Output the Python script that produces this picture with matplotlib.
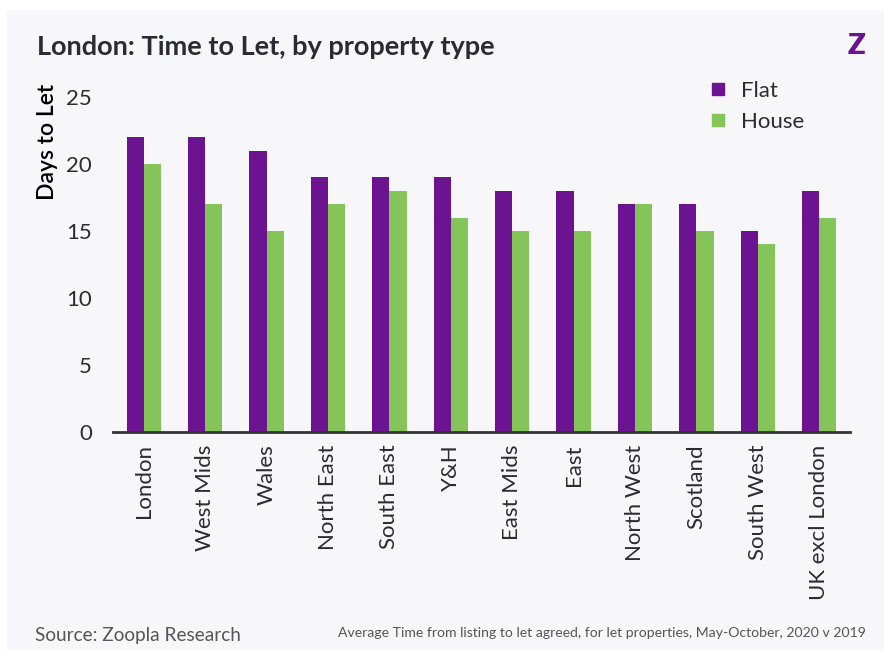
import matplotlib.pyplot as plt
from matplotlib.patches import Rectangle
from matplotlib.lines import Line2D
import numpy as np

# data
regions = ['London', 'West Mids', 'Wales', 'North East', 'South East', 'Y&H',
           'East Mids', 'East', 'North West', 'Scotland', 'South West', 'UK excl London']
flat = [22, 22, 21, 19, 19, 19, 18, 18, 17, 17, 15, 18]
house = [20, 17, 15, 17, 18, 16, 15, 15, 17, 15, 14, 16]
yticks = [0, 5, 10, 15, 20, 25]

purple = '#6B1390'
green = '#84C458'
dark = '#2B2B33'
bg = '#F7F7F9'

plt.rcParams['font.family'] = ['Lato', 'DejaVu Sans']

fig = plt.figure(figsize=(8.84, 6.53), dpi=100, facecolor='white')
# card background
fig.patches.append(Rectangle((7 / 884, 3 / 653), 877 / 884, 640 / 653,
                             transform=fig.transFigure, facecolor=bg,
                             edgecolor='none', zorder=-1))

ax = fig.add_axes([113 / 884, 1 - 432 / 653, 737 / 884, (432 - 97) / 653])
ax.set_facecolor(bg)

x = np.arange(len(regions))
w = 0.28
ax.bar(x - w / 2, flat, w, color=purple, label='Flat')
ax.bar(x + w / 2, house, w, color=green, label='House')

ax.set_xlim(-0.5, len(regions) - 0.5)
ax.set_ylim(0, 25)
ax.set_yticks(yticks)
ax.set_yticklabels([str(t) for t in yticks], fontsize=16, color=dark)
ax.set_xticks(x)
ax.set_xticklabels(regions, rotation=90, fontsize=16, color=dark, va='top')
ax.tick_params(axis='both', length=0)
ax.tick_params(axis='y', pad=15)
ax.tick_params(axis='x', pad=9)
for s in ['top', 'right', 'left']:
    ax.spines[s].set_visible(False)
ax.spines['bottom'].set_color('#333333')
ax.spines['bottom'].set_linewidth(2)

fig.text(48 / 884, 1 - 142 / 653, 'Days to Let', rotation=90, ha='center',
         va='center', fontsize=16.5, fontweight='semibold', color='black')

fig.text(37 / 884, 1 - 47 / 653, 'London: Time to Let, by property type',
         fontsize=19.5, fontweight='bold', color=dark, va='center')
fig.text(856 / 884, 1 - 46 / 653, 'Z', fontsize=21, fontweight='heavy',
         color=purple, ha='center', va='center')

handles = [Line2D([], [], marker='s', linestyle='none', markersize=9, color=purple),
           Line2D([], [], marker='s', linestyle='none', markersize=9, color=green)]
fig.legend(handles, ['Flat', 'House'], loc='upper left',
           bbox_to_anchor=(687 / 884, 1 - 61 / 653), frameon=False,
           fontsize=16, handlelength=1, handletextpad=0.55, labelspacing=0.5,
           labelcolor=dark)

fig.text(35 / 884, 1 - 635 / 653, 'Source: Zoopla Research', fontsize=13.7,
         color='#555555', va='center')
fig.text(866 / 884, 1 - 633 / 653,
         'Average Time from listing to let agreed, for let properties, May-October, 2020 v 2019',
         fontsize=10.1, color='#555555', va='center', ha='right')

fig.savefig('out.png', dpi=100, facecolor='white')
